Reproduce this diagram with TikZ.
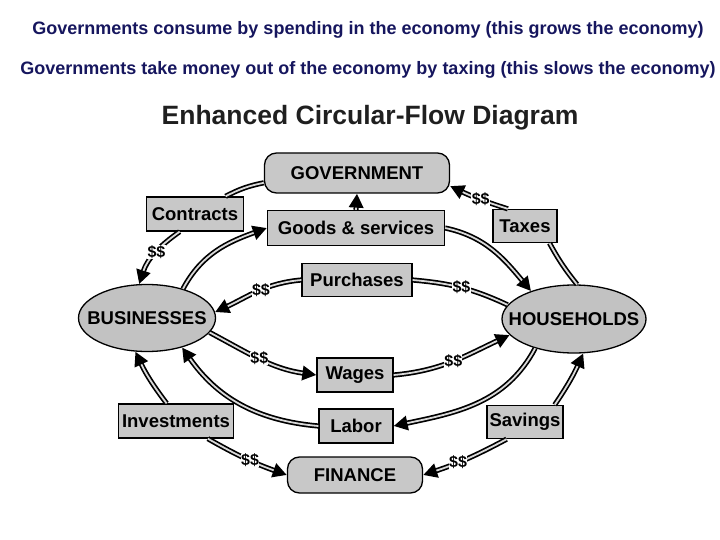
\documentclass[tikz,border=0pt]{standalone}
\usepackage{fontspec}
\setmainfont{Liberation Sans}
\usetikzlibrary{shapes.geometric, arrows.meta}
\definecolor{navy}{HTML}{16165E}
\definecolor{boxgray}{HTML}{C8C8C8}
\definecolor{ovalgray}{HTML}{C2C2C2}
\begin{document}
\begin{tikzpicture}[x=1pt,y=-1pt,
 nodefont/.style={font=\fontsize{18.5}{18.5}\selectfont\bfseries},
 box/.style={draw=black, line width=1.3pt, fill=boxgray, inner sep=0pt, nodefont},
 rbox/.style={box, rounded corners=12pt},
 oval/.style={ellipse, draw=black, line width=1.3pt, fill=ovalgray, inner sep=0pt, nodefont},
 pipe/.style={draw=gray!30, line width=1.8pt, preaction={draw=black, line width=5.2pt}},
 arr/.style={draw=gray!30, line width=1.8pt, shorten >=14pt,
   preaction={draw=black, line width=5.2pt, shorten >=0pt, -{Triangle[length=14pt,width=14pt]}}},
 dollar/.style={fill=white, inner sep=0.3pt, font=\fontsize{16}{16}\selectfont\bfseries},
 header/.style={text=navy, font=\fontsize{18}{18}\selectfont\bfseries}
]
\useasboundingbox (0,0) rectangle (720,540);

\node[header] (h1) at (368,30) {Governments consume by spending in the economy (this grows the economy)};
\node[header] (h2) at (368,70) {Governments take money out of the economy by taxing (this slows the economy)};
\node[font=\fontsize{26.5}{26.5}\selectfont\bfseries, text=black!88] (title) at (370,118) {Enhanced Circular-Flow Diagram};

\node[rbox, minimum width=185pt, minimum height=40pt] (gov) at (357,173) {GOVERNMENT};
\node[box, minimum width=177pt, minimum height=35pt] (goods) at (356,228) {Goods \& services};
\node[box, minimum width=97pt, minimum height=34pt] (contracts) at (195,214) {Contracts};
\node[box, minimum width=64pt, minimum height=33pt] (taxes) at (525,226) {Taxes};
\node[box, minimum width=110pt, minimum height=33pt] (purch) at (357,280) {Purchases};
\node[oval, minimum width=137pt, minimum height=67pt] (bus) at (147,318) {\makebox[0pt]{BUSINESSES}};
\node[oval, minimum width=144pt, minimum height=68pt] (hh) at (574,319) {\makebox[0pt]{HOUSEHOLDS}};
\node[box, minimum width=76pt, minimum height=34pt] (wages) at (355,375) {Wages};
\node[box, minimum width=74pt, minimum height=34pt] (labor) at (356,426) {Labor};
\node[box, minimum width=115pt, minimum height=34pt] (invest) at (176,421) {Investments};
\node[box, minimum width=76pt, minimum height=33pt] (savings) at (525,422) {Savings};
\node[rbox, minimum width=135pt, minimum height=36pt] (finance) at (355,475) {FINANCE};

% connectors
\draw[pipe] (gov.186) to[bend right=8] (contracts.30);
\draw[arr] (contracts.-131) to[out=-145, in=72] node[dollar, pos=.45] {\$\$} (bus.103);
\draw[arr] (bus.39) to[out=62, in=200] (goods.west);
\draw[arr] (goods.north) -- (gov.south);
\draw[arr] (goods.east) to[out=-12, in=130] (hh.147);
\draw[pipe] (hh.85) to[bend left=5] (taxes.-35);
\draw[arr] (taxes.135) to[bend left=4] node[dollar, pos=.46] {\$\$} (gov.-8);
\draw[pipe] (hh.168) to[out=155, in=-5] node[dollar, pos=.5] {\$\$} (purch.east);
\draw[arr] (purch.west) to[out=185, in=25] node[dollar, pos=.45] {\$\$} (bus.5);
\draw[arr] (bus.-13) to[out=-28, in=172] node[dollar, pos=.48] {\$\$} (wages.west);
\draw[arr] (wages.east) to[out=5, in=205] node[dollar, pos=.5] {\$\$} (hh.194);
\draw[arr] (hh.217) to[out=-118, in=12] (labor.east);
\draw[arr] (labor.west) to[out=175, in=-55] (bus.-40);
\draw[arr] (invest.118) to[bend left=6] (bus.-109);
\draw[arr] (invest.-29) to[bend right=5] node[dollar, pos=.55] {\$\$} (finance.west);
\draw[arr] (savings.30) to[bend right=5] (hh.-75);
\draw[arr] (savings.-137) to[bend left=5] node[dollar, pos=.6] {\$\$} (finance.east);
\end{tikzpicture}
\end{document}
